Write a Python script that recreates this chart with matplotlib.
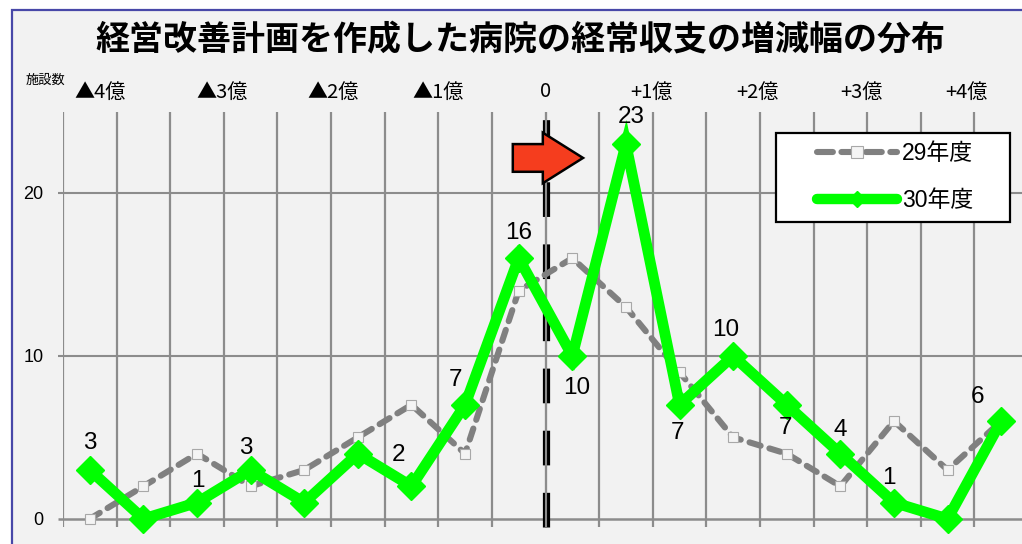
import matplotlib
matplotlib.use("Agg")
import matplotlib.pyplot as plt
from matplotlib.patches import Rectangle, FancyArrow
from matplotlib.lines import Line2D
import matplotlib.transforms as mtransforms
import numpy as np

plt.rcParams['font.family'] = ['Liberation Sans', 'Noto Sans CJK JP', 'DejaVu Sans']

# ---------------- data ----------------
title = "経営改善計画を作成した病院の経常収支の増減幅の分布"
series_names = ["29年度", "30年度"]
values_h29 = [0, 2, 4, 2, 3, 5, 7, 4, 14, 16, 13, 9, 5, 4, 2, 6, 3, 6]
values_h30 = [3, 0, 1, 3, 1, 4, 2, 7, 16, 10, 23, 7, 10, 7, 4, 1, 0, 6]
top_labels = ["▲4億", "▲3億", "▲2億", "▲1億", "0", "+1億", "+2億", "+3億", "+4億"]
y_ticks = [0, 10, 20]
y_label = "施設数"
labelled_points = [0, 2, 3, 6, 7, 8, 9, 10, 11, 12, 13, 14, 15, 17]

# label offsets (pixels) for the 30年度 data labels
label_offsets = {0: (0, 27), 2: (1, 22), 3: (-5, 22), 6: (-13, 31), 7: (-10, 25),
                 8: (0, 25), 9: (4, -32), 10: (5, 27), 11: (-2, -28), 12: (-7, 26),
                 13: (-1, -23), 14: (0, 24), 15: (-5, 25), 17: (-24, 24)}

W, H = 1022, 544
fig = plt.figure(figsize=(W / 100, H / 100), dpi=100)
fig.patch.set_facecolor('white')

# background panel with blue border
bg = Rectangle((12 / W, -0.05), 1.1, 1 - 10 / H + 0.05,
               transform=fig.transFigure, facecolor='#F2F2F2',
               edgecolor='#4848A8', linewidth=1.6, zorder=-5)
fig.patches.append(bg)

n = len(values_h30)
x = np.arange(n)
left_px, right_px = 63, 1028
ax = fig.add_axes([left_px / W, 17 / H, (right_px - left_px) / W, (432.5 - 17) / H])
ax.set_zorder(1)
ax.set_facecolor('none')
ax.patch.set_alpha(0)
ax.set_xlim(-0.5, n - 0.5)
ax.set_ylim(-0.5, 25)
for s in ax.spines.values():
    s.set_visible(False)

grid_c = '#8C8C8C'
# vertical gridlines between categories
for g in np.arange(-0.5, n, 1.0):
    ax.axvline(g, color=grid_c, lw=1.6, zorder=1)
# horizontal gridlines
for yv in y_ticks:
    ax.plot([-0.6, n - 0.5], [yv, yv], color=grid_c, lw=1.8 if yv == 0 else 1.5,
            zorder=1, clip_on=False, solid_capstyle='butt')

ax.set_xticks([])
ax.set_yticks(y_ticks)
ax.set_yticklabels([str(v) for v in y_ticks], fontsize=13)
ax.tick_params(axis='y', length=0, pad=14)

# zero-line dashed marker (black double dashed line)
zero_x = 8.5
ax.plot([zero_x, zero_x], [-0.5, 25], color='black', lw=5.2,
        linestyle=(0, (4.8, 3.8)), zorder=2, clip_on=False, dash_capstyle='butt')
ax.axvline(zero_x, color=grid_c, lw=1.5, zorder=2.1)

# series
ax.plot(x, values_h29, color='#808080', lw=4.4, linestyle=(0, (1.9, 1.5)),
        dash_capstyle='round', marker='s', ms=7.5, mfc='#F4F4F4', mec='#A8A8A8',
        mew=0.8, zorder=3, clip_on=False)
ax.plot(x, values_h30, color='#00FF00', lw=7.8, marker='D', ms=14, mfc='#00FF00',
        mec='#00FF00', solid_joinstyle='miter', zorder=4, clip_on=False)

# data labels
for i in labelled_points:
    dx, dy = label_offsets[i]
    ax.annotate(str(values_h30[i]), (x[i], values_h30[i]), xytext=(dx, dy),
                textcoords='offset pixels', ha='center', va='center',
                fontsize=17.5, zorder=5)

# top labels
trans = mtransforms.blended_transform_factory(ax.transData, ax.transAxes)
top_pos = np.arange(0.5, n, 2.0)
top_shift = [-0.3, -0.03, 0.03, 0.0, 0.0, -0.02, -0.05, -0.1, -0.15]
for p, s, lab in zip(top_pos, top_shift, top_labels):
    ax.text(p + s, 1.047, lab, transform=trans, ha='center', va='center',
            fontsize=14.5, clip_on=False,
            family=['Noto Sans CJK JP', 'DejaVu Sans'])

fig.text(45 / W, 1 - 80 / H, y_label, ha='center', va='center', fontsize=9.5,
         family=['Noto Sans CJK JP'])

# red arrow
ax.add_patch(FancyArrow(7.89, 22.15, 1.31, 0, width=1.7, head_width=3.1,
                        head_length=0.75, length_includes_head=True,
                        facecolor='#F53D1E', edgecolor='black', lw=1.8,
                        zorder=6, clip_on=False))

# title
fig.text(520 / W, 1 - 40 / H, title, ha='center', va='center', fontsize=24.5,
         fontweight='bold', family=['Noto Sans CJK JP'])

# legend box
fig.patches.append(Rectangle((776 / W, 1 - 222 / H), 234 / W, 89 / H,
                             transform=fig.transFigure, facecolor='white',
                             edgecolor='black', lw=1.6, zorder=10))
h1 = Line2D([], [], color='#808080', lw=4.4, linestyle=(0, (2.6, 1.4)),
            dash_capstyle='round', marker='s', ms=8, mfc='#F4F4F4',
            mec='#A8A8A8', mew=0.8)
h2 = Line2D([], [], color='#00FF00', lw=7.5, marker='D', ms=8,
            solid_capstyle='round')
leg = fig.legend([h1, h2], series_names, loc='center left',
                 bbox_to_anchor=(817 / W, 1 - 177 / H), frameon=False,
                 handlelength=3.5, handletextpad=0.2,
                 labelspacing=1.05, borderpad=0, borderaxespad=0, numpoints=1,
                 prop={'family': ['Liberation Sans', 'Noto Sans CJK JP'], 'size': 16.5})
leg.set_zorder(11)

fig.savefig("out.png", dpi=100, facecolor=fig.get_facecolor())
